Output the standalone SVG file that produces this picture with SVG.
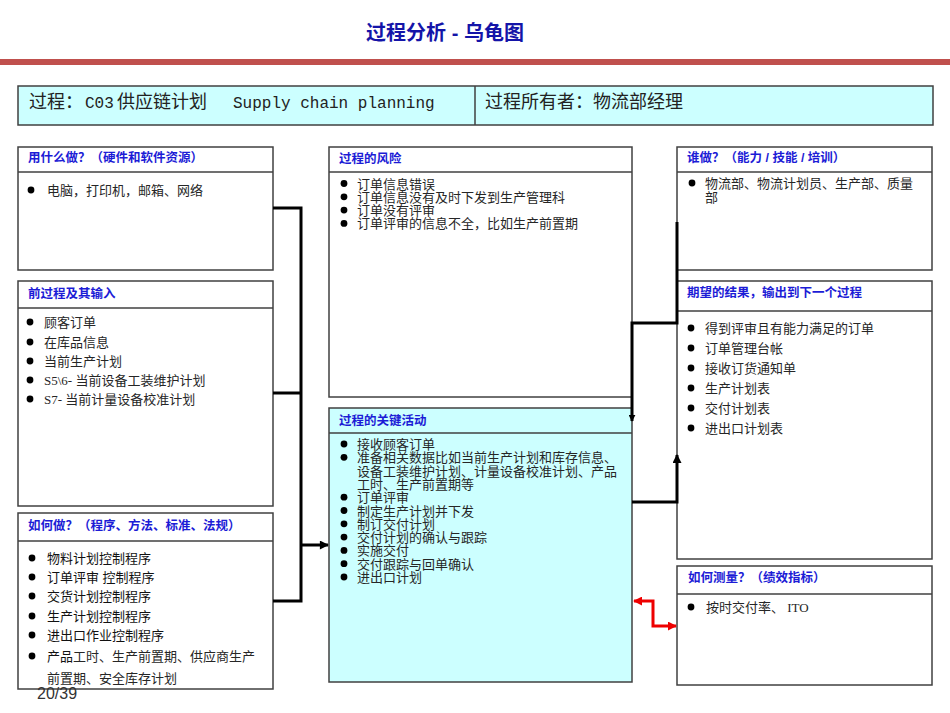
<svg xmlns="http://www.w3.org/2000/svg" width="950" height="713" viewBox="0 0 950 713">
<defs>
<style>
.box{fill:#fff;stroke:#404040;stroke-width:1.5}
.cyan{fill:#ccffff;stroke:#404040;stroke-width:1.5}
.div{stroke:#404040;stroke-width:1.5}
.ht{font-family:"Liberation Sans","Noto Sans CJK SC",sans-serif;font-size:12.5px;font-weight:bold;fill:#1c1cd6}
.tx{font-family:"Liberation Serif","Noto Sans CJK SC",serif;font-size:13px;fill:#262626}
.sx{font-family:"Liberation Sans","Noto Sans CJK SC",sans-serif;font-size:13px;fill:#111}
.bl{fill:#000}
.hd{font-family:"Liberation Serif","Noto Sans CJK SC",serif;font-size:18px;fill:#222}
.mono{font-family:"Liberation Mono",monospace;font-size:16px;fill:#222}
.con{fill:none;stroke:#000;stroke-width:3}
.red{fill:none;stroke:#ee0000;stroke-width:3}
</style>
<marker id="ak" viewBox="0 0 10 10" refX="9" refY="5" markerWidth="10" markerHeight="9" markerUnits="userSpaceOnUse" orient="auto"><path d="M0,0 L10,5 L0,10 z" fill="#000"/></marker>
<marker id="aks" viewBox="0 0 10 10" refX="9" refY="5" markerWidth="7" markerHeight="7" markerUnits="userSpaceOnUse" orient="auto"><path d="M0,0 L10,5 L0,10 z" fill="#000"/></marker>
<marker id="ar" viewBox="0 0 10 10" refX="9" refY="5" markerWidth="9" markerHeight="9" markerUnits="userSpaceOnUse" orient="auto-start-reverse"><path d="M0,0 L10,5 L0,10 z" fill="#ee0000"/></marker>
</defs>
<rect width="950" height="713" fill="#fff"/>

<g id="title">
<text x="445" y="40" text-anchor="middle" font-family="Liberation Sans,Noto Sans CJK SC,sans-serif" font-size="20" font-weight="bold" fill="#1414a8">过程分析 - 乌龟图</text>
<rect x="0" y="59" width="950" height="6" fill="#c0504d"/>
</g>

<g id="header">
<rect x="18" y="86" width="915" height="39" class="cyan"/>
<line x1="475" y1="86" x2="475" y2="125" class="div"/>
<text y="108"><tspan x="29" class="hd">过程：</tspan><tspan x="85" class="mono">C03</tspan><tspan x="117" class="hd">供应链计划</tspan><tspan x="233" class="mono">Supply chain planning</tspan></text>
<text x="485" y="108" class="hd">过程所有者：物流部经理</text>
</g>

<g id="resources">
<rect x="18" y="147" width="255" height="123" class="box"/>
<line x1="18" y1="172" x2="273" y2="172" class="div"/>
<text x="28" y="162" class="ht">用什么做？（硬件和软件资源）</text>
<circle cx="31" cy="190" r="3.4" class="bl"/>
<text x="47" y="195" class="tx">电脑，打印机，邮箱、网络</text>
</g>

<g id="inputs">
<rect x="18" y="281" width="255" height="225" class="box"/>
<line x1="18" y1="308" x2="273" y2="308" class="div"/>
<text x="28" y="298" class="ht">前过程及其输入</text>
<circle cx="30" cy="322" r="3.4" class="bl"/><text x="44" y="327" class="tx">顾客订单</text>
<circle cx="30" cy="342" r="3.4" class="bl"/><text x="44" y="347" class="tx">在库品信息</text>
<circle cx="30" cy="361" r="3.4" class="bl"/><text x="44" y="366" class="tx">当前生产计划</text>
<circle cx="30" cy="380" r="3.4" class="bl"/><text x="44" y="385" class="tx">S5\6- 当前设备工装维护计划</text>
<circle cx="30" cy="399" r="3.4" class="bl"/><text x="44" y="404" class="tx">S7- 当前计量设备校准计划</text>
</g>

<g id="methods">
<rect x="18" y="513" width="255" height="176" class="box"/>
<line x1="18" y1="541" x2="273" y2="541" class="div"/>
<text x="28" y="530" class="ht">如何做？（程序、方法、标准、法规）</text>
<circle cx="32" cy="558" r="3.4" class="bl"/><text x="47" y="563" class="sx">物料计划控制程序</text>
<circle cx="32" cy="577" r="3.4" class="bl"/><text x="47" y="582" class="sx">订单评审 控制程序</text>
<circle cx="32" cy="596" r="3.4" class="bl"/><text x="47" y="601" class="sx">交货计划控制程序</text>
<circle cx="32" cy="616" r="3.4" class="bl"/><text x="47" y="621" class="sx">生产计划控制程序</text>
<circle cx="32" cy="635" r="3.4" class="bl"/><text x="47" y="640" class="sx">进出口作业控制程序</text>
<circle cx="32" cy="656" r="3.4" class="bl"/><text x="47" y="661"><tspan class="sx">产品</tspan><tspan class="tx">工时、生产前置期、供应商生产</tspan></text>
<text x="47" y="683" class="tx">前置期、安全库存计划</text>
</g>

<text id="pagenum" x="37" y="699" font-family="Liberation Sans,sans-serif" font-size="16" fill="#333">20/39</text>

<g id="risks">
<rect x="329" y="147" width="303" height="250" class="box"/>
<line x1="329" y1="172" x2="632" y2="172" class="div"/>
<text x="339" y="163" class="ht">过程的风险</text>
<circle cx="344" cy="183.5" r="3.4" class="bl"/><text x="357" y="188.5" class="tx">订单信息错误</text>
<circle cx="344" cy="196.8" r="3.4" class="bl"/><text x="357" y="201.8" class="tx">订单信息没有及时下发到生产管理科</text>
<circle cx="344" cy="210.1" r="3.4" class="bl"/><text x="357" y="215.1" class="tx">订单没有评审</text>
<circle cx="344" cy="223.4" r="3.4" class="bl"/><text x="357" y="228.4" class="tx">订单评审的信息不全，比如生产前置期</text>
</g>

<g id="activities">
<rect x="329" y="408" width="303" height="274" class="cyan"/>
<line x1="329" y1="433" x2="632" y2="433" class="div"/>
<text x="339" y="425" class="ht">过程的关键活动</text>
<circle cx="344" cy="444" r="3.4" class="bl"/><text x="357" y="449" class="tx">接收顾客订单</text>
<circle cx="344" cy="457.3" r="3.4" class="bl"/><text x="357" y="462.3" class="tx">准备相关数据比如当前生产计划和库存信息、</text>
<text x="357" y="475.6" class="tx">设备工装维护计划、计量设备校准计划、产品</text>
<text x="357" y="488.9" class="tx">工时、生产前置期等</text>
<circle cx="344" cy="497.2" r="3.4" class="bl"/><text x="357" y="502.2" class="tx">订单评审</text>
<circle cx="344" cy="510.5" r="3.4" class="bl"/><text x="357" y="515.5" class="tx">制定生产计划并下发</text>
<circle cx="344" cy="523.8" r="3.4" class="bl"/><text x="357" y="528.8" class="tx">制订交付计划</text>
<circle cx="344" cy="537.1" r="3.4" class="bl"/><text x="357" y="542.1" class="tx">交付计划的确认与跟踪</text>
<circle cx="344" cy="550.4" r="3.4" class="bl"/><text x="357" y="555.4" class="tx">实施交付</text>
<circle cx="344" cy="563.7" r="3.4" class="bl"/><text x="357" y="568.7" class="tx">交付跟踪与回单确认</text>
<circle cx="344" cy="577" r="3.4" class="bl"/><text x="357" y="582" class="tx">进出口计划</text>
</g>

<g id="who">
<rect x="677" y="147" width="255" height="123" class="box"/>
<line x1="677" y1="172" x2="932" y2="172" class="div"/>
<text x="687" y="162" class="ht">谁做？（能力 / 技能 / 培训）</text>
<circle cx="692" cy="183" r="3.4" class="bl"/>
<text x="705" y="188" class="tx">物流部、物流计划员、生产部、质量</text>
<text x="705" y="201.5" class="tx">部</text>
</g>

<g id="outputs">
<rect x="677" y="281" width="255" height="278" class="box"/>
<line x1="677" y1="311" x2="932" y2="311" class="div"/>
<text x="687" y="297" class="ht">期望的结果，输出到下一个过程</text>
<circle cx="691" cy="328" r="3.4" class="bl"/><text x="705" y="333" class="tx">得到评审且有能力满足的订单</text>
<circle cx="691" cy="348" r="3.4" class="bl"/><text x="705" y="353" class="tx">订单管理台帐</text>
<circle cx="691" cy="368" r="3.4" class="bl"/><text x="705" y="373" class="tx">接收订货通知单</text>
<circle cx="691" cy="388" r="3.4" class="bl"/><text x="705" y="393" class="tx">生产计划表</text>
<circle cx="691" cy="408" r="3.4" class="bl"/><text x="705" y="413" class="tx">交付计划表</text>
<circle cx="691" cy="428" r="3.4" class="bl"/><text x="705" y="433" class="tx">进出口计划表</text>
</g>

<g id="measures">
<rect x="677" y="566" width="255" height="119" class="box"/>
<line x1="677" y1="594" x2="932" y2="594" class="div"/>
<text x="688" y="582" class="ht">如何测量？（绩效指标）</text>
<circle cx="691" cy="607" r="3.4" class="bl"/><text x="706" y="612" class="tx">按时交付率、 ITO</text>
</g>

<g id="connectors">
<path d="M273,208 H301 V601 H273" class="con"/>
<path d="M273,393 H301" class="con"/>
<path d="M301,545 H328" class="con" marker-end="url(#ak)"/>
<path d="M677,222 V323 H632 V421" class="con" marker-end="url(#aks)"/>
<path d="M632,502 H677 V455" class="con" marker-end="url(#ak)"/>
<path d="M634,601 H653 V626 H676" class="red" marker-start="url(#ar)" marker-end="url(#ar)"/>
</g>
</svg>
